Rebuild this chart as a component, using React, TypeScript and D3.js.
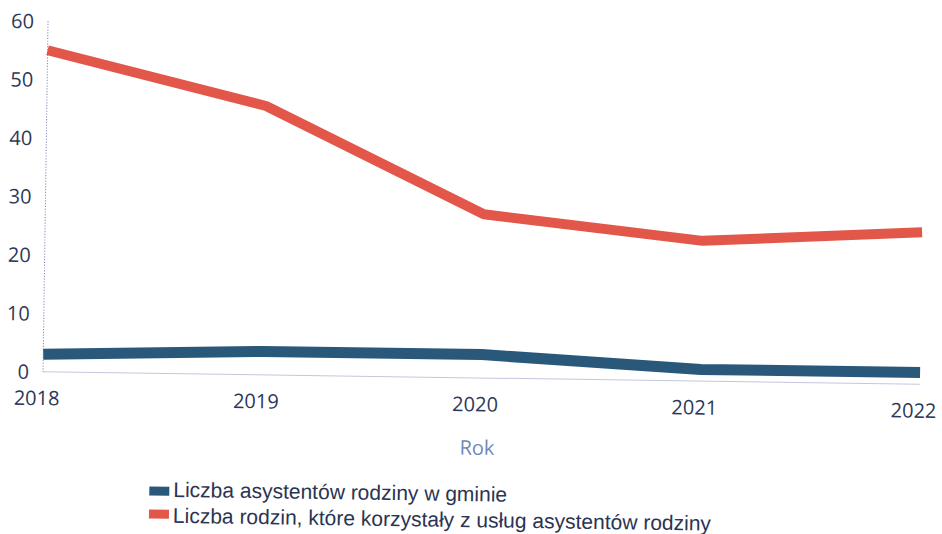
import React from "react";
import * as d3 from "d3";

const years = ["2018", "2019", "2020", "2021", "2022"];
const assistants = [3, 4, 4, 2, 2];
const families = [55, 46, 28, 24, 26];
const yTicks = [0, 10, 20, 30, 40, 50, 60];
const seriesNames = [
  "Liczba asystentów rodziny w gminie",
  "Liczba rodzin, które korzystały z usług asystentów rodziny",
];
const seriesColors = ["#2a587b", "#e2574a"];
const axisTitle = "Rok";

const W = 942;
const H = 534;
const X0 = 43;
const X1 = 920;
const Y0 = 371.7;
const Y60 = 21;
const ANGLE = 0.82;

export default function App() {
  const x = d3.scalePoint<string>().domain(years).range([X0, X1]);
  const y = d3.scaleLinear().domain([0, 60]).range([Y0, Y60]);
  const line = d3
    .line<number>()
    .x((_, i) => x(years[i]) as number)
    .y((d) => y(d));
  const series = [assistants, families];
  const widths = [11, 10];
  const tickFont = "'Open Sans', 'Noto Sans', sans-serif";
  const legendFont = "'Liberation Sans', Arial, sans-serif";

  return (
    <svg
      width={W}
      height={H}
      viewBox={`0 0 ${W} ${H}`}
      style={{ position: "absolute", left: 0, top: 0, background: "#fff" }}
    >
      <rect x={0} y={0} width={W} height={H} fill="#fff" />
      <g transform={`rotate(${ANGLE}, ${X0}, ${Y0})`}>
        <line x1={X0} x2={X1} y1={y(0)} y2={y(0)} stroke="#c4c7de" strokeWidth={1} />
        <line
          x1={X0}
          x2={X0}
          y1={y(60)}
          y2={y(0)}
          stroke="#7f89bb"
          strokeWidth={1}
          strokeDasharray="1.2,1.6"
        />
        {yTicks.map((t) => (
          <text
            key={t}
            x={29}
            y={y(t)}
            textAnchor="end"
            dominantBaseline="central"
            fontFamily={tickFont}
            fontSize={20}
            fill="#2c3858"
          >
            {t}
          </text>
        ))}
        {years.map((yr) => (
          <text
            key={yr}
            x={(x(yr) as number) - 6}
            y={y(0) + 26}
            textAnchor="middle"
            dominantBaseline="central"
            fontFamily={tickFont}
            fontSize={20}
            fill="#2c3858"
          >
            {yr}
          </text>
        ))}
        <text
          x={478}
          y={441}
          textAnchor="middle"
          dominantBaseline="central"
          fontFamily={tickFont}
          fontSize={20}
          fill="#6f88b8"
        >
          {axisTitle}
        </text>
        {series.map((s, i) => (
          <path
            key={i}
            d={line(s) as string}
            fill="none"
            stroke={seriesColors[i]}
            strokeWidth={widths[i]}
            strokeLinejoin="round"
          />
        ))}
        {seriesNames.map((name, i) => (
          <g key={name}>
            <rect x={151} y={485 + i * 23} width={20} height={9} fill={seriesColors[i]} />
            <text
              x={175}
              y={495 + i * 26}
              fontFamily={legendFont}
              fontSize={21}
              fill="#2b3452"
            >
              {name}
            </text>
          </g>
        ))}
      </g>
    </svg>
  );
}
